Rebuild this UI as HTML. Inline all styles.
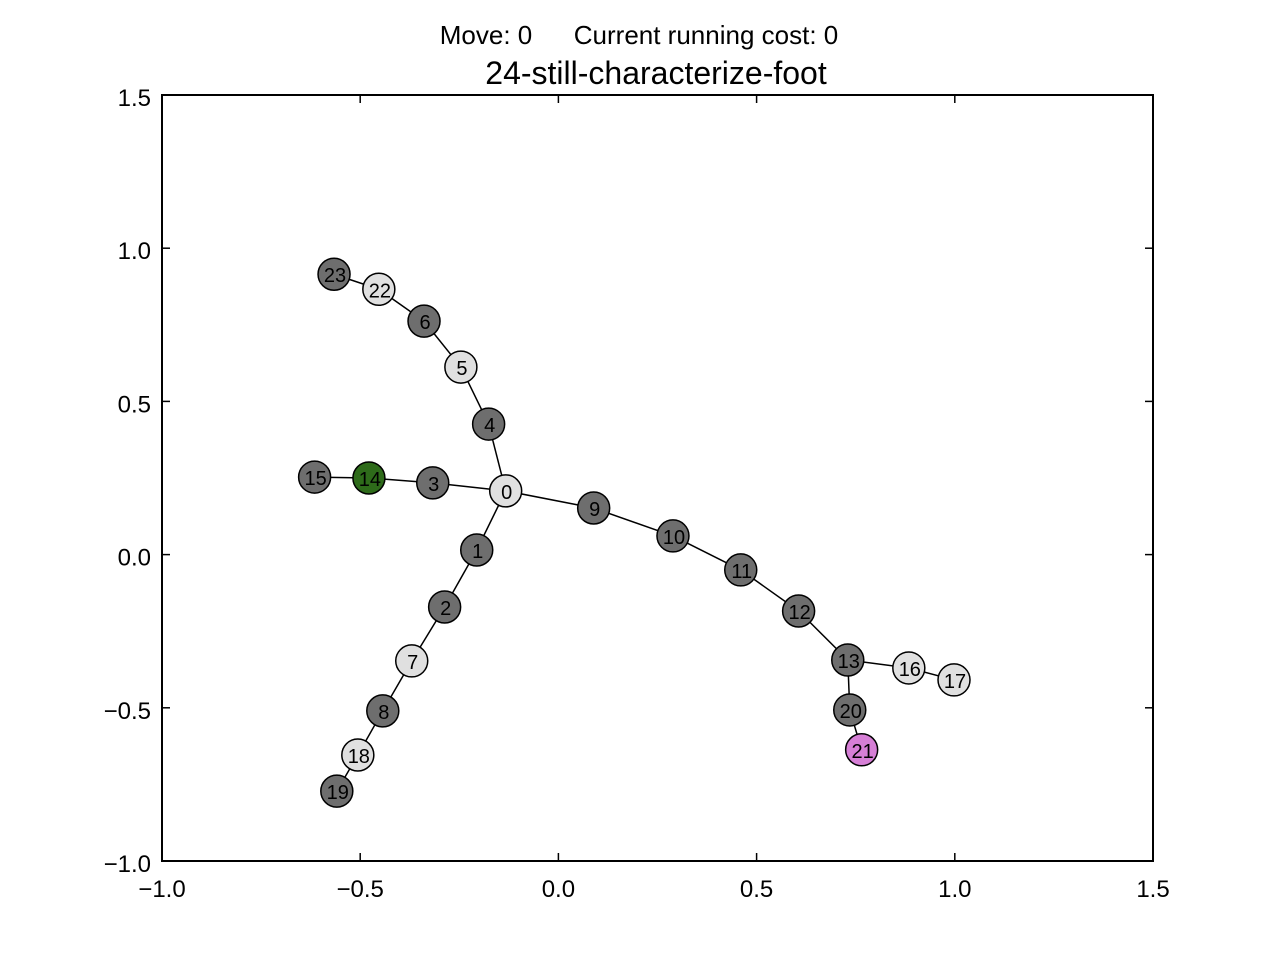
<!DOCTYPE html>
<html><head><meta charset="utf-8"><style>body{margin:0;background:#fff}svg{display:block;font-family:"Liberation Sans",sans-serif}</style></head>
<body>
<svg id="c" width="1280" height="960">
<text x="486" y="44" font-size="26" text-anchor="middle">Move: 0</text>
<text x="706" y="44" font-size="26" text-anchor="middle">Current running cost: 0</text>
<text x="656" y="84" font-size="32" text-anchor="middle">24-still-characterize-foot</text>
<rect x="162" y="95" width="991" height="766" fill="none" stroke="#000" stroke-width="2"/>
<g id="ax"></g><g id="ed"></g><g id="nd"></g>
</svg>
<script>
const xTicks=[-1.0,-0.5,0.0,0.5,1.0,1.5];
const yTicks=[-1.0,-0.5,0.0,0.5,1.0,1.5];
const nodeIds=[0,1,2,3,4,5,6,7,8,9,10,11,12,13,14,15,16,17,18,19,20,21,22,23];
const nodeX=[-0.133,-0.206,-0.287,-0.317,-0.176,-0.246,-0.339,-0.370,-0.443,0.089,0.289,0.460,0.606,0.730,-0.478,-0.615,0.884,0.998,-0.506,-0.559,0.735,0.765,-0.453,-0.566];
const nodeY=[0.208,0.015,-0.171,0.234,0.426,0.612,0.762,-0.347,-0.510,0.152,0.061,-0.050,-0.184,-0.344,0.250,0.253,-0.370,-0.409,-0.654,-0.772,-0.507,-0.637,0.866,0.915];
const nodeColor=['#e0e0e0','#6e6e6e','#6e6e6e','#6e6e6e','#6e6e6e','#e0e0e0','#6e6e6e','#e0e0e0','#6e6e6e','#6e6e6e','#6e6e6e','#6e6e6e','#6e6e6e','#6e6e6e','#2e6b1a','#6e6e6e','#e0e0e0','#e0e0e0','#e0e0e0','#6e6e6e','#6e6e6e','#d67fd6','#e0e0e0','#6e6e6e'];
const edgeFrom=[0,1,2,7,8,18,0,3,14,0,4,5,6,22,0,9,10,11,12,13,16,13,20];
const edgeTo=[1,2,7,8,18,19,3,14,15,4,5,6,22,23,9,10,11,12,13,16,17,20,21];
const X=v=>162+(v+1)*991/2.5, Y=v=>861-(v+1)*766/2.5;
const NS='http://www.w3.org/2000/svg';
function mk(t,a,p){const e=document.createElementNS(NS,t);for(const k in a)e.setAttribute(k,a[k]);p.appendChild(e);return e;}
const ax=document.getElementById('ax');
const fmt=v=>(v<0?'\u2212':'')+Math.abs(v).toFixed(1);
xTicks.forEach(v=>{const x=X(v);
mk('line',{x1:x,x2:x,y1:861,y2:853,stroke:'#000','stroke-width':1.5},ax);
mk('line',{x1:x,x2:x,y1:95,y2:103,stroke:'#000','stroke-width':1.5},ax);
const t=mk('text',{x:x,y:897,'font-size':24,'text-anchor':'middle'},ax);t.textContent=fmt(v);

});
yTicks.forEach(v=>{const y=Y(v);
mk('line',{x1:162,x2:170,y1:y,y2:y,stroke:'#000','stroke-width':1.5},ax);
mk('line',{x1:1153,x2:1145,y1:y,y2:y,stroke:'#000','stroke-width':1.5},ax);
const t=mk('text',{x:151,y:y+11,'font-size':24,'text-anchor':'end'},ax);t.textContent=fmt(v);

});
const ed=document.getElementById('ed');
edgeFrom.forEach((a,i)=>{const b=edgeTo[i];
const l=mk('line',{x1:X(nodeX[a]),y1:Y(nodeY[a]),x2:X(nodeX[b]),y2:Y(nodeY[b]),stroke:'#000','stroke-width':1.5},ed);

});
const nd=document.getElementById('nd');
nodeIds.forEach((id,i)=>{const g=mk('g',{},nd);


mk('circle',{cx:X(nodeX[i]),cy:Y(nodeY[i]),r:16,fill:nodeColor[i],stroke:'#000','stroke-width':1.5},g);
const t=mk('text',{x:X(nodeX[i])+1,y:Y(nodeY[i])+8,'font-size':20,'text-anchor':'middle'},g);t.textContent=id;});
</script>
</body></html>
